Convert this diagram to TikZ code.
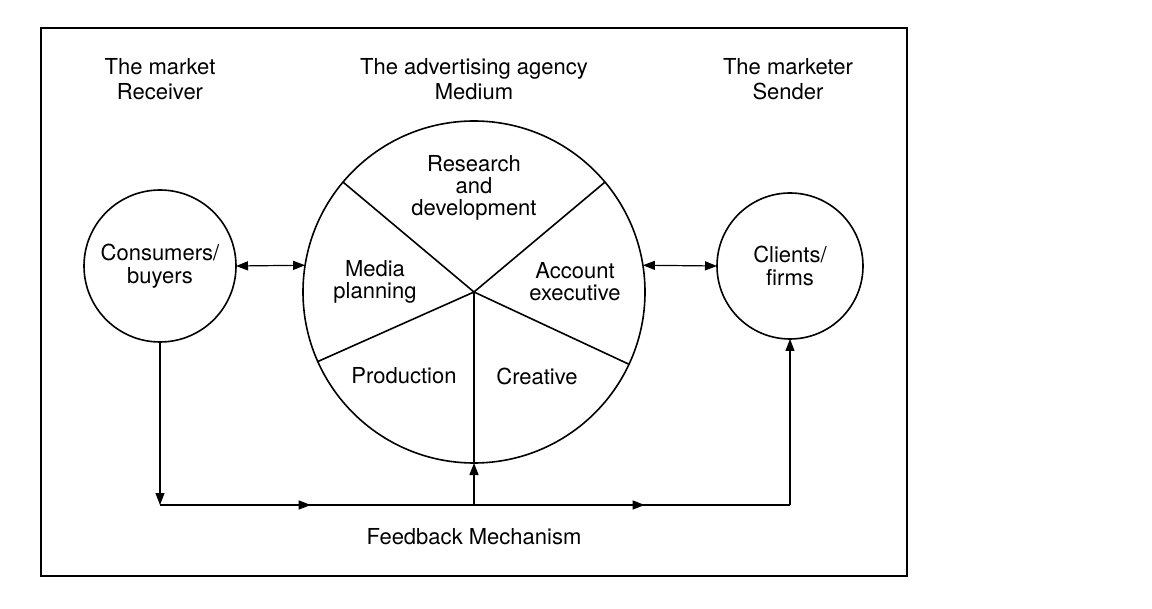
\documentclass[tikz,border=0pt]{standalone}
\usepackage{fontspec}
\setmainfont{TeX Gyre Heros}
\usetikzlibrary{arrows.meta}
\usetikzlibrary{decorations.markings}
\tikzset{
  tip/.style={-{Triangle[length=6pt,width=4.5pt]}},
  bitip/.style={{Triangle[length=6pt,width=4.5pt]}-{Triangle[length=6pt,width=4.5pt]}},
  party/.style={circle, draw, line width=0.8pt, inner sep=0pt, outer sep=0pt, align=center, font=\fontsize{11}{11.5}\selectfont},
  heading/.style={align=center, font=\fontsize{11}{12.5}\selectfont},
  sector/.style={align=center, font=\fontsize{11}{11}\selectfont},
  midtip/.style={postaction={decorate}, decoration={markings, mark=at position #1 with {\arrow{Triangle[length=6pt,width=4.5pt]}}}}
}
\newcommand{\spoke}[1]{\draw[line width=0.8pt] (agency.center) -- (agency.#1);}
\begin{document}
\begin{tikzpicture}[x=0.5pt,y=-0.5pt]
    \useasboundingbox (0,0) rectangle (1152,609);
    \draw[line width=0.7pt] (41,28) rectangle (907,576);

    % headings
    \node[heading] (market) at (160,79) {The market\\Receiver};
    \node[heading] (medium) at (474,79) {The advertising agency\\Medium};
    \node[heading] (sender) at (788,79) {The marketer\\Sender};

    % the three parties
    \node[party, minimum size=76pt] (consumers) at (160,266) {Consumers/\\buyers};
    \node[party, minimum size=171pt] (agency) at (474,292) {};
    \node[party, minimum size=73pt] (clients) at (790,266) {Clients/\\firms};

    \spoke{140}
    \spoke{40}
    \spoke{204}
    \spoke{335}
    \spoke{270}

    \node[sector] (research) at (474,188) {Research\\and\\development};
    \node[sector] (media) at (375,282) {Media\\planning};
    \node[sector] (account) at (575,282) {Account\\executive};
    \node[sector] (production) at (404,376) {Production};
    \node[sector] (creative) at (537,376) {Creative};

    \draw[bitip, line width=0.6pt] (consumers.east) -- (agency.171);
    \draw[bitip, line width=0.6pt] (agency.9) -- (clients.west);

    % feedback loop
    \coordinate (fbl) at (160,505);
    \coordinate (fbm) at (474,505);
    \coordinate (fbr) at (790,505);
    \draw[tip, line width=0.6pt] (consumers.south) -- (fbl);
    \draw[midtip=0.48, line width=0.6pt] (fbl) -- (fbm);
    \draw[midtip=0.54, line width=0.6pt] (fbm) -- (fbr);
    \draw[tip, line width=0.6pt] (fbm) -- (agency.south);
    \draw[tip, line width=0.6pt] (fbr) -- (clients.south);

    \node[heading] (feedback) at (474,537) {Feedback Mechanism};
\end{tikzpicture}
\end{document}
